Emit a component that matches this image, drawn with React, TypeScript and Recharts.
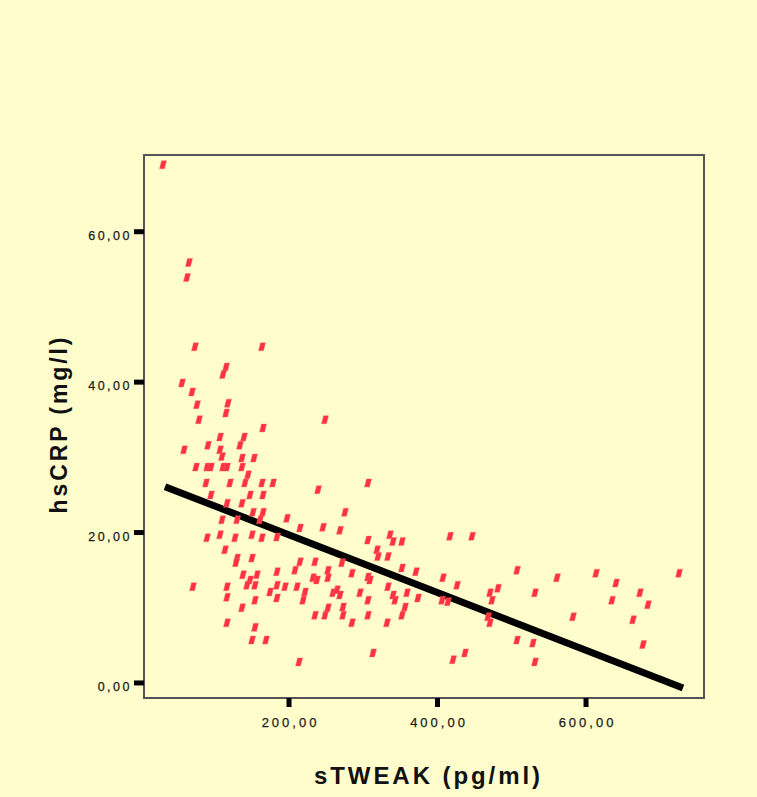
import React from 'react';
import { ScatterChart, Scatter, XAxis, YAxis, ReferenceArea, ReferenceLine } from 'recharts';

const sTweak = [
  30.3, 65.3, 62.6, 73.4, 163.6, 115.2, 111.1, 55.9, 69.4, 76.1, 117.8, 115.2, 78.8, 248.5, 165.0, 107.1, 139.4, 90.9, 134.0, 58.6,
  107.1, 109.8, 136.7, 152.9, 74.7, 89.6, 94.9, 111.1, 116.5, 136.7, 144.8, 88.2, 120.5, 140.7, 163.6, 178.5, 239.1, 94.9, 147.5, 165.0,
  116.5, 136.7, 165.0, 151.5, 197.3, 109.8, 130.0, 160.9, 245.8, 214.8, 89.6, 107.1, 127.3, 150.2, 163.6, 183.8, 268.7, 113.8, 130.0, 128.6,
  150.2, 183.8, 208.1, 214.8, 235.0, 252.5, 252.5, 232.3, 138.0, 147.5, 156.9, 143.4, 154.2, 70.7, 116.5, 116.5, 174.4, 183.8, 183.8, 194.6,
  210.8, 221.5, 218.9, 237.7, 259.3, 154.2, 136.7, 116.5, 154.2, 150.2, 169.0, 235.0, 248.5, 252.5, 213.5, 306.4, 275.4, 306.4, 336.0, 340.1,
  352.2, 416.8, 446.5, 318.5, 319.9, 333.3, 271.4, 284.8, 306.4, 309.1, 352.2, 371.0, 407.4, 426.3, 507.1, 264.6, 268.7, 295.6, 333.3, 340.1,
  342.8, 358.9, 373.7, 406.1, 414.1, 470.7, 473.4, 481.5, 306.4, 272.7, 272.7, 306.4, 356.2, 352.2, 468.0, 470.7, 284.8, 332.0, 507.1, 313.1,
  420.9, 437.0, 560.9, 613.5, 725.3, 531.3, 640.4, 635.0, 672.7, 683.5, 582.5, 663.3, 676.8, 528.6, 531.3,
];

const hsCrp = [
  68.9, 55.9, 53.9, 44.7, 44.7, 42.0, 41.0, 39.9, 38.7, 37.0, 37.2, 35.9, 35.0, 35.0, 33.9, 32.7, 32.7, 31.6, 31.6, 31.0,
  31.0, 30.1, 29.9, 29.9, 28.7, 28.7, 28.7, 28.7, 28.7, 28.7, 27.7, 26.6, 26.6, 26.6, 26.6, 26.6, 25.7, 25.0, 25.0, 25.0,
  23.9, 23.9, 22.7, 22.7, 21.9, 21.7, 21.7, 21.7, 20.7, 20.6, 19.3, 19.7, 19.3, 19.7, 19.3, 19.4, 20.3, 17.7, 16.6, 16.0,
  16.6, 14.8, 15.0, 16.1, 16.1, 15.0, 14.0, 14.0, 14.4, 13.7, 14.4, 13.0, 13.0, 12.8, 12.8, 11.4, 12.1, 13.0, 11.3, 12.8,
  12.8, 12.1, 11.0, 13.7, 12.0, 11.0, 10.0, 8.0, 7.4, 5.7, 5.7, 9.0, 9.0, 10.0, 2.8, 26.6, 22.7, 19.0, 19.7, 18.8,
  18.8, 19.5, 19.5, 17.7, 16.8, 16.8, 16.0, 14.6, 14.1, 13.7, 15.3, 14.8, 14.0, 13.0, 15.0, 12.4, 11.7, 12.0, 12.8, 11.7,
  11.0, 12.0, 11.3, 11.0, 10.8, 12.0, 11.0, 12.6, 11.0, 10.1, 9.0, 9.0, 10.1, 9.0, 8.8, 8.0, 8.0, 8.0, 5.7, 4.0,
  3.1, 4.0, 14.0, 14.6, 14.6, 12.0, 13.3, 11.0, 12.0, 10.4, 8.8, 8.4, 5.1, 5.3, 2.8,
];

const fitX = [33.0, 730.6];
const fitY = [26.1, -0.66];

const xTicks = [200, 400, 600];
const yTicks = [0, 20, 40, 60];
const xDomain = [4.7, 758.9];
const yDomain = [-2.0, 70.2];

const xTitle = 'sTWEAK (pg/ml)';
const yTitle = 'hsCRP (mg/l)';

const points = sTweak.map((x, i) => ({ x, y: hsCrp[i] }));
const fitSegment = fitX.map((x, i) => ({ x, y: fitY[i] }));

const FONT = '"Liberation Sans", Arial, sans-serif';
const BG = '#FFFDCC';

const fmt = (v: number) => v.toFixed(2).replace('.', ',');

const Marker = (props: any) => {
  const { cx, cy } = props;
  if (cx == null || cy == null) return null;
  const pts = `${cx - 3.5},${cy + 4} ${cx + 1.5},${cy + 4} ${cx + 3.5},${cy - 4} ${cx - 1.5},${cy - 4}`;
  return <polygon points={pts} fill="#FF3340" stroke="#FF6670" strokeOpacity={0.5} strokeWidth={0.8} />;
};

const XTick = (props: any) => {
  const { x, y, payload } = props;
  return (
    <text x={x + 1.5} y={y} dy={18} textAnchor="middle" fontFamily={FONT} fontSize={13} letterSpacing={3} fill="#1a1a1a" stroke="#1a1a1a" strokeWidth={0.25}>
      {fmt(payload.value)}
    </text>
  );
};

const YTick = (props: any) => {
  const { x, y, payload } = props;
  return (
    <text x={x} y={y} dy={8} textAnchor="end" fontFamily={FONT} fontSize={12.5} letterSpacing={2.5} fill="#1a1a1a" stroke="#1a1a1a" strokeWidth={0.25}>
      {fmt(payload.value)}
    </text>
  );
};

const XTitle = (props: any) => {
  const vb = props.viewBox;
  return (
    <text x={vb.x + vb.width / 2 + 3} y={vb.y + 86} textAnchor="middle" fontFamily={FONT} fontSize={24} fontWeight="bold" fill="#111" textLength={226} lengthAdjust="spacing">
      {xTitle}
    </text>
  );
};

const YTitle = (props: any) => {
  const vb = props.viewBox;
  const cx = vb.x + 67;
  const cy = vb.y + vb.height / 2 - 1;
  return (
    <text x={cx} y={cy} transform={`rotate(-90 ${cx} ${cy})`} textAnchor="middle" fontFamily={FONT} fontSize={23} fontWeight="bold" fill="#111" textLength={176} lengthAdjust="spacing">
      {yTitle}
    </text>
  );
};

export default function App() {
  return (
    <div style={{ position: 'absolute', left: 0, top: 0, width: 757, height: 797, background: BG, overflow: 'hidden' }}>
      <ScatterChart width={757} height={797} margin={{ top: 155, right: 53, bottom: 0, left: 0 }}>
        <XAxis
          type="number"
          dataKey="x"
          domain={xDomain}
          ticks={xTicks}
          allowDataOverflow
          height={99}
          axisLine={false}
          tickSize={9}
          tickLine={{ stroke: '#000', strokeWidth: 5 }}
          tick={<XTick />}
          label={<XTitle />}
        />
        <YAxis
          type="number"
          dataKey="y"
          domain={yDomain}
          ticks={yTicks}
          allowDataOverflow
          width={144}
          axisLine={false}
          tickSize={10}
          tickLine={{ stroke: '#000', strokeWidth: 5 }}
          tick={<YTick />}
          label={<YTitle />}
        />
        <ReferenceArea
          x1={xDomain[0]}
          x2={xDomain[1]}
          y1={yDomain[0]}
          y2={yDomain[1]}
          fill="none"
          stroke="#555"
          strokeWidth={2}
          ifOverflow="visible"
        />
        <Scatter data={points} shape={<Marker />} isAnimationActive={false} />
        <ReferenceLine segment={fitSegment} stroke="#000" strokeWidth={7} ifOverflow="visible" />
      </ScatterChart>
    </div>
  );
}
